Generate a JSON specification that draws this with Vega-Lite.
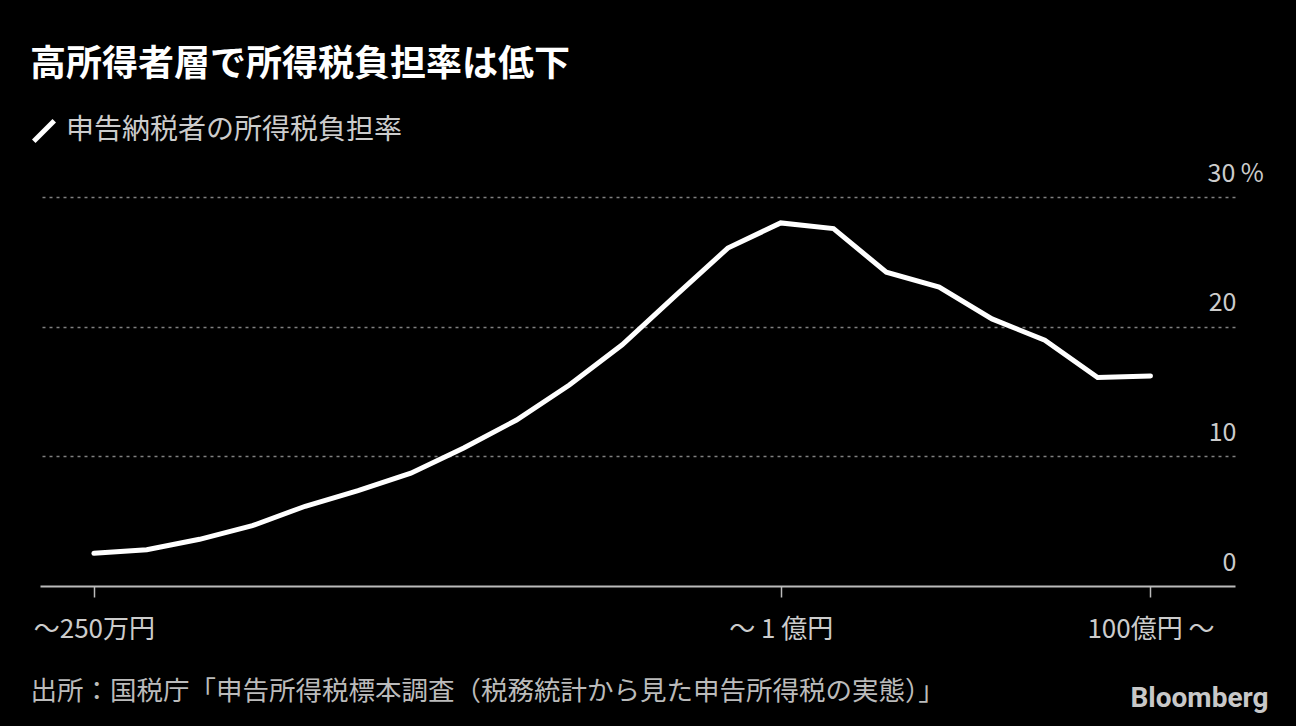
{
  "$schema": "https://vega.github.io/schema/vega-lite/v6.json",
  "width": 1195,
  "height": 389,
  "autosize": "none",
  "padding": {"left": 40, "top": 197, "right": 61, "bottom": 140},
  "background": "#000000",
  "title": {
    "text": "高所得者層で所得税負担率は低下",
    "anchor": "start",
    "frame": "group",
    "dx": -10,
    "offset": 33,
    "font": "Noto Sans CJK JP",
    "fontSize": 36,
    "fontWeight": "bold",
    "color": "#ffffff"
  },
  "data": {
    "values": [
      {"bracket": 0, "rate": 2.52},
      {"bracket": 1, "rate": 2.8},
      {"bracket": 2, "rate": 3.6},
      {"bracket": 3, "rate": 4.65},
      {"bracket": 4, "rate": 6.15},
      {"bracket": 5, "rate": 7.35},
      {"bracket": 6, "rate": 8.7},
      {"bracket": 7, "rate": 10.65},
      {"bracket": 8, "rate": 12.8},
      {"bracket": 9, "rate": 15.5},
      {"bracket": 10, "rate": 18.6},
      {"bracket": 11, "rate": 22.35},
      {"bracket": 12, "rate": 26.06},
      {"bracket": 13, "rate": 28.0},
      {"bracket": 14, "rate": 27.56},
      {"bracket": 15, "rate": 24.2},
      {"bracket": 16, "rate": 23.06},
      {"bracket": 17, "rate": 20.6},
      {"bracket": 18, "rate": 18.95},
      {"bracket": 19, "rate": 16.08},
      {"bracket": 20, "rate": 16.2}
    ]
  },
  "mark": {"type": "line", "strokeWidth": 5, "strokeCap": "round"},
  "encoding": {
    "x": {
      "field": "bracket",
      "type": "quantitative",
      "scale": {"domain": [-1.02, 21.6], "nice": false, "zero": false},
      "axis": {
        "values": [0, 13, 20],
        "labelExpr": "datum.value == 0 ? '～250万円' : datum.value == 13 ? '～ 1 億円' : '100億円 ～'",
        "grid": false,
        "domainColor": "#bbbbbb",
        "domainWidth": 2,
        "tickColor": "#bbbbbb",
        "tickSize": 11,
        "tickWidth": 1.5,
        "labelPadding": 19,
        "labelFont": "Noto Sans CJK JP",
        "labelFontSize": 26,
        "labelColor": "#cccccc",
        "title": "出所：国税庁「申告所得税標本調査（税務統計から見た申告所得税の実態）」",
        "titleX": -10,
        "titleY": 113,
        "titleAlign": "left",
        "titleAnchor": "start",
        "titleBaseline": "alphabetic",
        "titleFont": "Noto Sans CJK JP",
        "titleFontSize": 26.5,
        "titleFontWeight": "normal",
        "titleColor": "#bbbbbb"
      }
    },
    "y": {
      "field": "rate",
      "type": "quantitative",
      "scale": {"domain": [0, 30], "nice": false},
      "axis": {
        "orient": "right",
        "values": [0, 10, 20, 30],
        "labelExpr": "datum.value == 30 ? '30 %' : datum.label",
        "domain": false,
        "ticks": false,
        "tickSize": 0,
        "gridColor": "#808080",
        "gridDash": [3, 4],
        "gridWidth": 1.5,
        "gridOpacity": {"condition": {"test": "datum.value == 0", "value": 0}, "value": 1},
        "labelAlign": {"condition": {"test": "datum.value == 30", "value": "left"}, "value": "right"},
        "labelPadding": {"condition": {"test": "datum.value == 30", "value": -28}, "value": 1},
        "labelBaseline": "alphabetic",
        "labelOffset": -16,
        "labelFont": "Noto Sans CJK JP",
        "labelFontSize": 25,
        "labelColor": "#cccccc",
        "title": "Bloomberg",
        "titleAngle": 0,
        "titleX": 33,
        "titleY": 509,
        "titleAlign": "right",
        "titleBaseline": "alphabetic",
        "titleFont": "Liberation Sans Narrow, Roboto",
        "titleFontSize": 28,
        "titleFontWeight": "bold",
        "titleColor": "#c8c8c8"
      }
    },
    "color": {
      "datum": "申告納税者の所得税負担率",
      "scale": {"range": ["#ffffff"]},
      "legend": {
        "title": null,
        "orient": "none",
        "legendX": -10,
        "legendY": -80,
        "symbolType": "M-1,1L1,-1",
        "symbolSize": 420,
        "symbolStrokeWidth": 5,
        "labelOffset": 8,
        "labelFont": "Noto Sans CJK JP",
        "labelFontSize": 28,
        "labelColor": "#cccccc",
        "labelLimit": 600
      }
    }
  },
  "config": {
    "view": {"stroke": null}
  }
}
